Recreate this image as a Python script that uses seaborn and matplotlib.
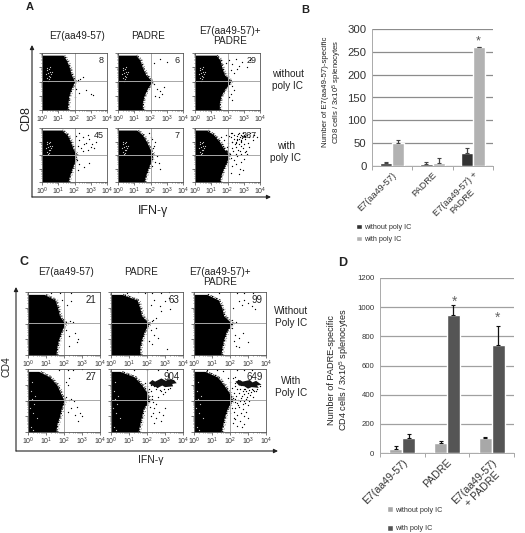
import matplotlib
matplotlib.use("Agg")
import matplotlib.pyplot as plt
import pandas as pd
import seaborn as sns

W, H = 525, 533

# bar chart B
groups_b = ["E7(aa49-57)", "PADRE", "E7(aa49-57) +\nPADRE"]
without_b = [6, 4, 28]
with_b = [51, 7, 260]
err_without_b = [3, 5, 11]
err_with_b = [5, 10, 0]

# bar chart D
groups_d = ["E7(aa49-57)", "PADRE", "E7(aa49-57)\n+ PADRE"]
without_d = [30, 68, 103]
with_d = [103, 948, 742]
err_without_d = [15, 12, 7]
err_with_d = [25, 68, 130]

# flow plots: right edge of the black mass (log10 x) at these log10 y levels
levels = [0, 0.5, 1, 1.5, 2, 2.5, 3, 3.5, 3.85]
edge_a11 = [1.55, 1.6, 1.65, 1.8, 2.0, 1.8, 1.68, 1.5, 1.3]
edge_a12 = [1.5, 1.5, 1.6, 1.8, 2.1, 1.7, 1.5, 1.35, 1.1]
edge_a13 = [1.5, 1.5, 1.6, 1.85, 2.2, 1.8, 1.65, 1.55, 1.3]
edge_a21 = [1.6, 1.7, 1.85, 2.0, 2.1, 1.9, 1.75, 1.55, 1.2]
edge_a22 = [1.6, 1.7, 1.85, 2.0, 2.15, 1.95, 1.75, 1.5, 1.15]
edge_a23 = [1.5, 1.6, 1.75, 1.95, 2.1, 1.75, 1.5, 1.15, 0.7]
edge_c11 = [1.55, 1.6, 1.7, 1.85, 2.05, 1.75, 1.65, 1.5, 0.9]
edge_c12 = [1.6, 1.6, 1.7, 1.85, 2.1, 1.7, 1.6, 1.45, 0.6]
edge_c13 = [1.5, 1.55, 1.65, 1.8, 2.1, 1.65, 1.55, 1.35, 0.7]
edge_c21 = [1.55, 1.6, 1.75, 1.85, 2.0, 1.8, 1.6, 1.2, 0.6]
edge_c22 = [1.5, 1.6, 1.7, 1.8, 2.1, 2.0, 1.7, 1.3, 0.5]
edge_c23 = [1.5, 1.6, 1.7, 1.85, 2.1, 1.95, 1.65, 1.3, 0.6]

# scattered events, read by eye
dots_a11 = ([2.2, 2.35, 2.5, 2.7, 3.0, 3.15, 2.1, 2.3, 2.2, 2.05],
            [2.1, 2.2, 2.35, 1.4, 1.1, 1.05, 1.5, 1.2, 2.05, 0.9])
dots_a12 = ([2.2, 2.4, 2.6, 2.7, 2.5, 2.8, 2.3, 3.0, 2.2, 2.6],
            [1.8, 1.5, 1.3, 1.1, 0.9, 1.6, 1.0, 3.4, 3.3, 3.6])
dots_a13 = ([1.9, 2.1, 2.3, 2.5, 2.7, 2.9, 3.2, 3.4, 2.2, 2.4, 2.6, 2.0, 2.2, 2.4, 2.1, 2.3, 2.0, 2.3],
            [3.3, 3.5, 3.2, 3.6, 3.1, 3.4, 3.0, 3.5, 2.8, 2.6, 2.9, 1.3, 1.1, 1.4, 0.9, 0.7, 2.6, 1.7])
dots_a21 = ([2.1, 2.3, 2.5, 2.7, 2.9, 3.1, 3.3, 2.2, 2.4, 2.6, 2.8, 3.0, 3.2, 2.3, 2.5, 2.8, 2.15, 2.3, 2.6, 2.9, 2.2, 2.05],
            [3.4, 3.1, 3.3, 2.9, 3.2, 2.8, 3.0, 2.7, 2.5, 2.8, 2.4, 2.6, 2.5, 3.6, 2.3, 3.5, 1.6, 1.3, 1.1, 1.4, 0.9, 2.3])
dots_a22 = ([2.2, 2.3, 2.05, 2.15, 2.4, 2.5, 2.25, 2.1, 1.9, 2.1, 2.6],
            [2.7, 3.0, 3.3, 2.5, 1.9, 1.4, 1.5, 1.2, 3.6, 3.2, 1.0])
dots_a23 = ([1.6, 1.8, 1.9, 2.05, 2.2, 2.3, 2.45, 2.6, 2.7, 2.85, 3.0, 3.1, 3.25, 3.4, 3.55, 1.7, 1.95, 2.1, 2.3, 2.5, 2.65, 2.8, 2.95, 3.15, 3.3,
             1.9, 2.05, 2.25, 2.4, 2.55, 2.75, 2.9, 3.05, 3.2, 3.35, 2.0, 2.15, 2.35, 2.5, 2.7, 2.85, 3.0, 3.2, 2.2, 2.4, 2.6, 2.8, 3.0, 2.3, 2.5, 2.75, 2.95,
             2.6, 2.7, 2.8, 2.9, 3.0, 3.1, 2.65, 2.85, 3.05, 2.75, 2.95, 2.2, 2.4, 2.6, 2.8, 2.3, 2.5, 2.2, 2.7, 3.6, 3.8],
            [3.3, 3.1, 3.5, 2.9, 3.3, 3.6, 2.8, 3.2, 3.6, 3.0, 3.4, 3.3, 2.9, 3.6, 3.1, 2.7, 2.6, 3.4, 2.5, 2.9, 2.4, 2.7, 2.5, 2.3, 2.6,
             2.3, 2.7, 3.0, 3.5, 2.1, 2.3, 3.4, 2.2, 3.5, 3.3, 2.2, 2.1, 2.3, 2.6, 2.8, 2.1, 2.8, 2.1, 1.8, 1.6, 1.9, 1.5, 1.7, 1.2, 1.3, 1.0, 0.9,
             3.4, 3.2, 3.45, 3.25, 3.5, 3.15, 3.55, 3.1, 3.4, 3.3, 3.6, 3.6, 3.2, 3.1, 3.05, 2.95, 3.0, 0.7, 0.6, 3.45, 3.3])
dots_c11 = ([2.1, 2.2, 2.35, 2.5, 2.6, 2.8, 2.15, 2.4, 2.7, 2.3, 1.9, 2.1, 2.3, 1.3, 1.8, 2.4],
            [2.1, 2.05, 2.15, 2.1, 1.4, 1.0, 3.2, 3.4, 0.8, 0.6, 3.5, 1.6, 1.2, 3.95, 3.95, 3.95])
dots_c12 = ([2.05, 2.15, 2.25, 2.35, 2.5, 2.2, 2.4, 2.7, 3.0, 3.2, 3.3, 2.2, 2.4, 2.6, 2.1, 2.3, 2.5, 2.8, 3.1, 0.9, 1.5, 1.9, 2.3, 2.8, 3.2],
            [1.95, 2.05, 2.15, 2.25, 2.35, 3.2, 3.5, 3.1, 3.4, 3.6, 2.9, 1.6, 1.3, 1.1, 0.9, 0.7, 1.7, 2.8, 0.4, 3.95, 3.97, 3.93, 3.96, 3.94, 3.97])
dots_c13 = ([2.1, 2.2, 2.35, 2.5, 2.65, 2.8, 3.0, 3.2, 3.4, 2.1, 2.3, 2.5, 2.2, 2.35, 2.15, 2.7, 2.5, 3.0, 1.4, 2.0, 2.4, 2.8, 3.3],
            [2.2, 2.05, 2.1, 3.4, 3.2, 3.5, 3.3, 3.1, 2.9, 1.7, 1.3, 1.1, 0.9, 0.6, 3.0, 1.4, 0.5, 0.8, 3.95, 3.97, 3.93, 3.96, 3.95])
dots_c21 = ([2.1, 2.25, 2.4, 2.55, 2.7, 2.9, 3.0, 2.6, 2.8, 2.4, 2.2, 2.1, 2.3, 2.2, 1.7, 2.2, 2.5, 3.0],
            [2.2, 2.05, 2.1, 2.0, 1.6, 1.2, 1.0, 1.1, 0.7, 1.5, 1.3, 3.2, 3.4, 3.0, 3.95, 3.96, 3.93, 3.97])
dots_c22 = ([1.9, 2.0, 2.1, 1.85, 2.0, 2.2, 2.4, 2.55, 2.7, 2.95, 3.15, 3.3, 2.2, 2.5, 2.75, 3.0, 2.3, 2.6, 2.9,
             2.25, 2.35, 2.5, 2.15, 2.4, 2.65, 2.9, 3.0, 2.5, 2.75, 2.2, 2.4, 2.1, 2.35, 1.3, 2.0, 2.6, 3.1],
            [3.1, 2.9, 2.7, 2.5, 2.3, 3.0, 2.9, 2.85, 2.65, 2.75, 2.7, 2.8, 2.6, 2.7, 2.6, 2.55, 2.3, 2.2, 2.4,
             2.1, 1.9, 1.8, 1.6, 1.5, 1.3, 1.1, 1.5, 0.9, 0.7, 1.0, 0.6, 2.0, 1.2, 3.95, 3.96, 3.93, 3.95])
dots_c23 = ([1.9, 2.0, 2.15, 2.3, 2.45, 2.6, 2.75, 2.9, 3.05, 3.2, 3.35, 3.5, 3.65, 2.1, 2.25, 2.4, 2.55, 2.7, 2.85, 3.0, 3.15, 3.3, 3.45,
             2.0, 2.2, 2.35, 2.5, 2.65, 2.8, 2.95, 3.1, 3.25, 2.15, 2.3, 2.45, 2.6, 2.75, 2.9, 3.05, 2.25, 2.4, 2.55, 2.7, 2.85, 3.0, 2.1, 2.3, 2.5, 2.7, 2.9,
             2.2, 2.4, 2.6, 2.8, 3.0, 2.3, 2.55, 2.75, 2.15, 2.4, 2.65, 2.2, 2.45, 2.0, 2.3, 0.7, 1.3, 1.6, 2.4, 2.8, 3.2],
            [3.4, 3.2, 3.45, 3.1, 3.3, 3.0, 2.7, 2.6, 2.65, 2.7, 2.6, 2.75, 2.9, 2.8, 2.9, 2.7, 2.75, 2.6, 2.7, 2.5, 2.55, 2.65, 2.6,
             2.4, 2.5, 2.3, 2.45, 2.3, 2.4, 2.25, 2.35, 2.2, 2.15, 2.1, 2.05, 2.15, 2.0, 2.1, 1.95, 1.9, 1.85, 1.95, 1.75, 1.85, 1.7, 1.55, 1.5, 1.6, 1.45, 1.3,
             1.25, 1.1, 1.2, 1.0, 0.9, 0.8, 0.7, 0.5, 0.6, 0.4, 0.3, 0.9, 1.7, 1.2, 3.5, 3.93, 3.95, 3.9, 3.96, 3.93, 3.95])

# dense band of events in the two with-poly-IC PADRE plots
band_c22_x = [2.1, 2.3, 2.45, 2.8, 3.05, 3.2, 3.5, 3.65, 3.4, 3.45, 3.0, 2.85, 2.6, 2.3, 2.1]
band_c22_y = [3.1, 3.3, 3.2, 3.4, 3.25, 3.35, 3.3, 3.1, 3.05, 2.9, 2.85, 2.95, 2.8, 2.95, 3.1]
band_c23_x = [2.3, 2.55, 2.7, 3.1, 3.25, 3.45, 3.75, 3.5, 3.6, 3.2, 3.0, 2.8, 2.5, 2.3]
band_c23_y = [3.2, 3.3, 3.2, 3.3, 3.15, 3.25, 3.0, 2.95, 2.8, 2.85, 2.75, 2.9, 2.95, 3.2]

# pale speckle inside the black mass
white_a_x = [0.25, 0.32, 0.4, 0.48, 0.55, 0.3, 0.42, 0.5, 0.36, 0.6, 0.28, 0.45, 0.38, 0.52]
white_a_y = [2.5, 2.8, 2.4, 2.7, 2.55, 2.25, 2.9, 2.35, 2.6, 2.7, 2.95, 2.15, 2.05, 3.0]
white_c_x = [0.15, 0.2, 0.35, 0.1, 0.4, 0.25, 0.15, 0.3, 0.5, 0.2]
white_c_y = [2.6, 2.1, 1.8, 1.5, 2.3, 1.2, 0.3, 0.15, 0.9, 3.2]

counts_a = ["8", "6", "29", "45", "7", "267"]
counts_c = ["21", "63", "99", "27", "904", "649"]
titles_a = ["E7(aa49-57)", "PADRE", "E7(aa49-57)+\nPADRE"]
titles_c = ["E7(aa49-57)", "PADRE", "E7(aa49-57)+\nPADRE"]


def px_axes(fig, left, top, right, bottom):
    return fig.add_axes([left / W, 1 - bottom / H, (right - left) / W, (bottom - top) / H])


def flow_panel(fig, box, edge, dots, count, white=None, band=None, fs=7.0):
    ax = px_axes(fig, *box)
    ax.fill_betweenx(levels, 0.03, edge, color="black", lw=0)
    # dotted lines along the edge stand in for its loose events
    ax.plot([e + 0.06 for e in edge], levels, color="black", lw=1.0, ls=(0, (1, 0.6, 0.5, 1.2)))
    ax.plot([e + 0.15 for e in edge], levels, color="#333333", lw=0.5, ls=(0, (1, 3, 1, 5)))
    sns.scatterplot(x=dots[0], y=dots[1], s=0.9, marker="o", color="black", linewidth=0, ax=ax)
    if band is not None:
        ax.fill(band[0], band[1], color="#111111", lw=0)
    if white is not None:
        sns.scatterplot(x=white[0], y=white[1], s=0.8, marker="o", color="#cccccc", linewidth=0, ax=ax)
    ax.axvline(2, color="#a8a8a8", lw=0.7)
    ax.axhline(2.03, color="#a8a8a8", lw=0.7)
    ax.set(xlim=(0, 4), ylim=(0, 4), xlabel="", ylabel="")
    ax.set_xticks(range(5))
    ax.set_xticklabels([f"$10^{i}$" for i in range(5)], fontsize=5, color="#333333")
    ax.set_yticks(range(5))
    ax.set_yticklabels([])
    minor = [i + m for i in range(4) for m in (0.3, 0.48, 0.6, 0.7, 0.78, 0.85, 0.9, 0.95)]
    ax.set_xticks(minor, minor=True)
    ax.set_yticks(minor, minor=True)
    ax.tick_params(length=2, width=0.5, pad=1, color="#444444", bottom=True, left=True)
    ax.tick_params(which="minor", length=1, width=0.4, color="#444444", bottom=True, left=True)
    for sp in ax.spines.values():
        sp.set_linewidth(0.6)
        sp.set_color("#555555")
    ax.text(0.95, 0.95, count, transform=ax.transAxes, ha="right", va="top", fontsize=fs, color="#222222")
    return ax


def bar_panel(fig, box, groups, without, with_ic, err_without, err_with, palette, ymax, step,
              tick_fs, label_fs, width, grid, ecolor, legend_pos, legend_gap):
    ax = px_axes(fig, *box)
    df = pd.DataFrame({
        "group": groups * 2,
        "value": without + with_ic,
        "series": ["without poly IC"] * 3 + ["with poly IC"] * 3,
    })
    sns.barplot(data=df, x="group", y="value", hue="series", palette=palette, width=width,
                gap=0, saturation=1, errorbar=None, ax=ax, zorder=3)
    for cont, errs in zip(ax.containers, [err_without, err_with]):
        xs = [b.get_x() + b.get_width() / 2 for b in cont]
        hs = [b.get_height() for b in cont]
        ax.errorbar(xs, hs, yerr=[[0] * 3, errs], fmt="none", ecolor=ecolor, elinewidth=0.9,
                    capsize=1.5, capthick=0.8, zorder=4)
    ax.set(ylim=(0, ymax), xlim=(-0.5, 2.5), xlabel="", ylabel="")
    ax.set_yticks(range(0, ymax + 1, step))
    ax.yaxis.grid(True, color=grid, lw=0.9)
    ax.set_axisbelow(True)
    ax.tick_params(axis="y", labelsize=tick_fs, length=0, pad=4, labelcolor="#333333")
    ax.set_xticks([-0.5, 0.5, 1.5, 2.5], minor=True)
    ax.tick_params(axis="x", which="minor", length=3, width=0.6, color="#999999", bottom=True)
    ax.tick_params(axis="x", which="major", length=0, pad=3)
    ax.set_xticks(range(3))
    ax.set_xticklabels(groups, rotation=45, ha="right", rotation_mode="anchor", multialignment="center",
                       fontsize=label_fs, color="#333333", linespacing=1.2)
    sns.despine(ax=ax, top=True, right=True)
    for s in ("left", "bottom"):
        ax.spines[s].set_color("#aaaaaa")
        ax.spines[s].set_linewidth(0.7)
    sns.move_legend(ax, loc="upper left", bbox_to_anchor=legend_pos, bbox_transform=fig.transFigure,
                    frameon=False, title=None, fontsize=5.2, labelspacing=legend_gap,
                    handlelength=0.8, handleheight=0.8, handletextpad=0.3, borderpad=0, labelcolor="#333333")
    return ax


sns.set_theme(style="white")
plt.rcParams["font.family"] = ["Liberation Sans", "DejaVu Sans"]
plt.rcParams["mathtext.fontset"] = "custom"
plt.rcParams["mathtext.rm"] = "Liberation Sans"
plt.rcParams["mathtext.default"] = "regular"

fig = plt.figure(figsize=(W / 100, H / 100), dpi=100)

# overlay in pixel coordinates for panel letters, arrows and labels
ov = fig.add_axes([0, 0, 1, 1], zorder=5)
ov.set(xlim=(0, W), ylim=(H, 0))
ov.axis("off")
ov.patch.set_alpha(0)

cols_a = [(42, 107), (118, 183), (195, 260)]
rows_a = [(53, 110), (128, 182)]
cols_c = [(28, 100), (111, 183), (194, 266)]
rows_c = [(292, 355), (369, 432)]

edges_a = [edge_a11, edge_a12, edge_a13, edge_a21, edge_a22, edge_a23]
dots_a = [dots_a11, dots_a12, dots_a13, dots_a21, dots_a22, dots_a23]
edges_c = [edge_c11, edge_c12, edge_c13, edge_c21, edge_c22, edge_c23]
dots_c = [dots_c11, dots_c12, dots_c13, dots_c21, dots_c22, dots_c23]

for i in range(6):
    c, r = i % 3, i // 3
    box = (cols_a[c][0], rows_a[r][0], cols_a[c][1], rows_a[r][1])
    flow_panel(fig, box, edges_a[i], dots_a[i], counts_a[i], white=(white_a_x, white_a_y), fs=6.5)
for i in range(6):
    c, r = i % 3, i // 3
    box = (cols_c[c][0], rows_c[r][0], cols_c[c][1], rows_c[r][1])
    band = None
    if i == 4:
        band = (band_c22_x, band_c22_y)
    if i == 5:
        band = (band_c23_x, band_c23_y)
    white = (white_c_x, white_c_y) if i >= 3 else None
    flow_panel(fig, box, edges_c[i], dots_c[i], counts_c[i], white=white, band=band, fs=7.0)

bar_panel(fig, (372, 29, 493, 166), groups_b, without_b, with_b, err_without_b, err_with_b,
          ["#333333", "#b2b2b2"], 300, 50, 8.2, 6.6, 0.6, "#8c8c8c", "#444444", (0.672, 0.587), 0.65)
bar_panel(fig, (380, 278, 514, 453), groups_d, without_d, with_d, err_without_d, err_with_d,
          ["#a8a8a8", "#555555"], 1200, 200, 5.6, 7.6, 0.58, "#a0a0a0", "#111111", (0.731, 0.057), 1.6)

txt = "#222222"
ov.text(30, 7, "A", fontsize=8, fontweight="bold", ha="center", va="center", color=txt)
ov.text(305, 10, "B", fontsize=8, fontweight="bold", ha="center", va="center", color=txt)
ov.text(24, 262, "C", fontsize=9, fontweight="bold", ha="center", va="center", color=txt)
ov.text(343, 263, "D", fontsize=9, fontweight="bold", ha="center", va="center", color=txt)

ov.text(77, 36, titles_a[0], fontsize=7.2, ha="center", va="center", color=txt)
ov.text(148, 36, titles_a[1], fontsize=7.2, ha="center", va="center", color=txt)
ov.text(230, 36, titles_a[2], fontsize=7.2, ha="center", va="center", color=txt, linespacing=1.1)
ov.text(66, 272, titles_c[0], fontsize=7.2, ha="center", va="center", color=txt)
ov.text(141, 272, titles_c[1], fontsize=7.2, ha="center", va="center", color=txt)
ov.text(220, 277, titles_c[2], fontsize=7.2, ha="center", va="center", color=txt, linespacing=1.1)

ov.text(288, 80, "without\npoly IC", fontsize=7.2, ha="center", va="center", color=txt, linespacing=1.2)
ov.text(286, 152, "with\npoly IC", fontsize=7.2, ha="center", va="center", color=txt, linespacing=1.2)
ov.text(291, 317, "Without\nPoly IC", fontsize=7.2, ha="center", va="center", color=txt, linespacing=1.2)
ov.text(291, 387, "With\nPoly IC", fontsize=7.2, ha="center", va="center", color=txt, linespacing=1.2)

ov.text(26, 119, "CD8", fontsize=9, rotation=90, ha="center", va="center", color=txt)
ov.text(153, 211, "IFN-γ", fontsize=9, ha="center", va="center", color=txt)
ov.text(7, 367, "CD4", fontsize=7.5, rotation=90, ha="center", va="center", color=txt)
ov.text(151, 460, "IFN-γ", fontsize=7.5, ha="center", va="center", color=txt)

arrow = dict(arrowstyle="-|>", color="#222222", lw=0.8, mutation_scale=6, shrinkA=0, shrinkB=0)
ov.annotate("", xy=(32, 45), xytext=(32, 197), arrowprops=arrow)
ov.annotate("", xy=(271, 197), xytext=(32, 197), arrowprops=arrow)
ov.annotate("", xy=(16, 287), xytext=(16, 451), arrowprops=arrow)
ov.annotate("", xy=(278, 451), xytext=(16, 451), arrowprops=arrow)

ov.text(333, 92, "Number of E7(aa49-57)-specific\nCD8 cells / 3x10$^5$ splenocytes", fontsize=5.6,
        rotation=90, ha="center", va="center", color=txt, linespacing=1.15)
ov.text(339, 370, "Number of PADRE-specific\nCD4 cells / 3x10$^5$ splenocytes", fontsize=6.6,
        rotation=90, ha="center", va="center", color=txt, linespacing=1.15)

ov.text(478, 41, "*", fontsize=9, ha="center", va="center", color="#555555")
ov.text(455, 302, "*", fontsize=10, ha="center", va="center", color="#666666")
ov.text(498, 318, "*", fontsize=10, ha="center", va="center", color="#666666")

fig.savefig("out.png", dpi=100)
